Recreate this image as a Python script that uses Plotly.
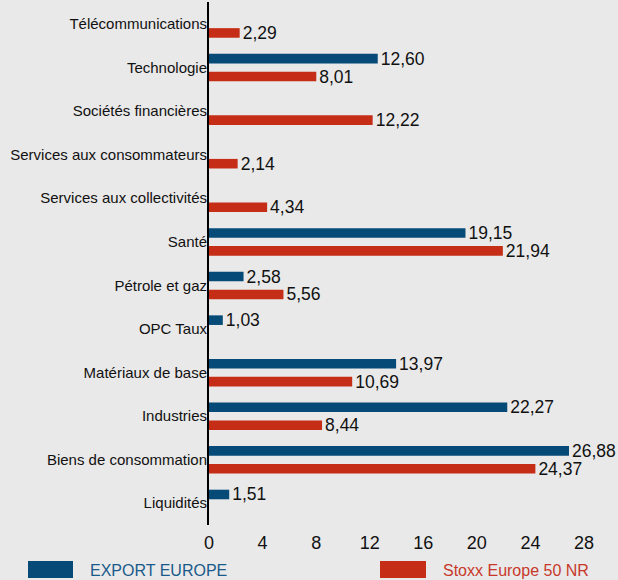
import plotly.graph_objects as go

categories = ["Télécommunications", "Technologie", "Sociétés financières",
              "Services aux consommateurs", "Services aux collectivités", "Santé",
              "Pétrole et gaz", "OPC Taux", "Matériaux de base", "Industries",
              "Biens de consommation", "Liquidités"]
export_europe = [None, 12.60, None, None, None, 19.15, 2.58, 1.03, 13.97, 22.27, 26.88, 1.51]
stoxx = [2.29, 8.01, 12.22, 2.14, 4.34, 21.94, 5.56, None, 10.69, 8.44, 24.37, None]
x_ticks = [0, 4, 8, 12, 16, 20, 24, 28]
series_names = ["EXPORT EUROPE", "Stoxx Europe 50 NR"]

BLUE = "#064a78"
RED = "#c52d17"
BG = "#e9e9e9"
FONT = "Liberation Sans"


def fmt(vals):
    return [("" if v is None else f"{v:.2f}".replace(".", ",")) for v in vals]


fig = go.Figure()
fig.add_trace(go.Bar(
    y=categories, x=export_europe, orientation="h", name=series_names[0],
    marker=dict(color=BLUE, line=dict(width=0)),
    width=0.22, offset=-0.31,
    text=fmt(export_europe), textposition="outside", cliponaxis=False,
    constraintext="none",
    textfont=dict(family=FONT, size=17.5, color="#111111"),
))
fig.add_trace(go.Bar(
    y=categories, x=stoxx, orientation="h", name=series_names[1],
    marker=dict(color=RED, line=dict(width=0)),
    width=0.22, offset=0.10,
    text=fmt(stoxx), textposition="outside", cliponaxis=False,
    constraintext="none",
    textfont=dict(family=FONT, size=17.5, color="#111111"),
))

L, R_PX = 209, 584
PW = R_PX - L
PB = 525

fig.update_layout(
    width=618, height=580,
    margin=dict(l=L, r=618 - R_PX, t=2, b=580 - PB),
    paper_bgcolor=BG, plot_bgcolor=BG,
    showlegend=False,
    barmode="group",
    font=dict(family=FONT, color="#111111"),
    xaxis=dict(range=[0, 28], tickvals=x_ticks, ticktext=[str(t) for t in x_ticks],
               showgrid=False, zeroline=False, showline=False,
               ticks="outside", ticklen=1, tickcolor=BG,
               tickfont=dict(family=FONT, size=18, color="#111111")),
    yaxis=dict(categoryorder="array", categoryarray=categories, autorange="reversed",
               showgrid=False, zeroline=False, showline=True, linecolor="#000000",
               linewidth=2, ticks="", ticklabelstandoff=-3,
               tickfont=dict(family=FONT, size=15, color="#111111")),
)

PH = PB - 2


def px_x(x):
    return (x - L) / PW


def px_y(y):
    return -(y - PB) / PH


# Legend (custom)
fig.add_shape(type="rect", xref="paper", yref="paper",
              x0=px_x(28), x1=px_x(73), y0=px_y(561), y1=px_y(578),
              fillcolor=BLUE, line=dict(width=0))
fig.add_shape(type="rect", xref="paper", yref="paper",
              x0=px_x(380), x1=px_x(426), y0=px_y(561), y1=px_y(578),
              fillcolor=RED, line=dict(width=0))
fig.add_annotation(xref="paper", yref="paper", x=px_x(88), y=px_y(570),
                   text=series_names[0], showarrow=False, xanchor="left", yanchor="middle",
                   font=dict(family=FONT, size=16, color="#1a5a8a"))
fig.add_annotation(xref="paper", yref="paper", x=px_x(441), y=px_y(570),
                   text=series_names[1], showarrow=False, xanchor="left", yanchor="middle",
                   font=dict(family=FONT, size=16, color="#c8382a"))

fig.write_html("out.html")
